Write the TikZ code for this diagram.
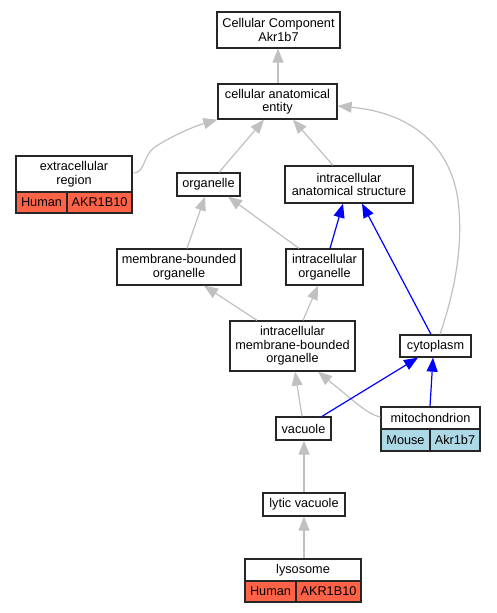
\documentclass[tikz,border=0pt]{standalone}
\usepackage{fontspec}
\setmainfont{Liberation Sans}
\usetikzlibrary{arrows.meta,calc}
\definecolor{hum}{HTML}{FF6347}
\definecolor{mou}{HTML}{ADD8E6}
\definecolor{edgegray}{HTML}{C0C0C0}
\tikzset{
  box/.style={draw=black!85, line width=1.3pt, fill=white, rectangle, inner sep=0pt, align=center, font=\fontsize{12.7}{13.5}\selectfont},
  hcell/.style={box, fill=hum},
  mcell/.style={box, fill=mou},
  isa/.style={draw=edgegray, line width=1.2pt, -{Triangle[length=14pt,width=11pt]}},
  part/.style={draw=blue, line width=1.2pt, -{Triangle[length=14pt,width=11pt]}},
}
\begin{document}
\begin{tikzpicture}[x=1pt,y=-1pt]
\useasboundingbox (0,0) rectangle (496,613);
% nodes
\node[box, minimum width=123, minimum height=36] (cc) at (278.5,30) {Cellular Component\\Akr1b7};
\node[box, minimum width=119, minimum height=35] (cae) at (277.5,101.5) {cellular anatomical\\entity};
\node[box, minimum width=116, minimum height=36] (ecr) at (74,174) {extracellular\\region};
\node[hcell, minimum width=51, minimum height=21] (ecrh) at (41.5,202.5) {Human};
\node[hcell, minimum width=65, minimum height=21] (ecrg) at (99.5,202.5) {AKR1B10};
\node[box, minimum width=63, minimum height=23] (org) at (208.5,184.5) {organelle};
\node[box, minimum width=128, minimum height=37] (ias) at (349,184.5) {intracellular\\anatomical structure};
\node[box, minimum width=124, minimum height=36] (mbo) at (179,267) {membrane-bounded\\organelle};
\node[box, minimum width=77, minimum height=36] (io) at (324.5,267) {intracellular\\organelle};
\node[box, minimum width=125, minimum height=50] (imbo) at (292.5,346) {intracellular\\membrane-bounded\\organelle};
\node[box, minimum width=71, minimum height=22] (cyto) at (435.5,346) {cytoplasm};
\node[box, minimum width=99, minimum height=22] (mito) at (430.5,418) {mitochondrion};
\node[mcell, minimum width=49, minimum height=22] (mitoh) at (405.5,440) {Mouse};
\node[mcell, minimum width=50, minimum height=22] (mitog) at (455,440) {Akr1b7};
\node[box, minimum width=55, minimum height=23] (vac) at (303.5,428.5) {vacuole};
\node[box, minimum width=82, minimum height=23] (lv) at (304,504.5) {lytic vacuole};
\node[box, minimum width=116, minimum height=22] (lys) at (303,570) {lysosome};
\node[hcell, minimum width=51, minimum height=21] (lysh) at (270.5,591.5) {Human};
\node[hcell, minimum width=65, minimum height=21] (lysg) at (328.5,591.5) {AKR1B10};
% edges
\draw[isa] ($(cae.north)+(0.5,0)$) -- ($(cc.south)+(-0.5,0)$);
\draw[isa] ($(ecr.east)+(1,-1)$) .. controls (145,173) and (143,155) .. (155,147) .. controls (170,137) and (192,127) .. (cae.south west);
\draw[isa] ($(org.north)+(10.5,0)$) -- ($(cae.south)+(-13.5,0)$);
\draw[isa] ($(ias.north)+(-16,0)$) -- ($(cae.south)+(15.5,0)$);
\draw[isa] ($(cyto.north)+(4.5,0)$) .. controls (455,290) and (462,250) .. (459,210) .. controls (455,150) and (415,113) .. ($(cae.east)+(0,4.5)$);
\draw[isa] ($(mbo.north)+(8,0)$) -- ($(org.south)+(-3.5,0)$);
\draw[isa] ($(io.north)+(-25.5,0)$) -- ($(org.south)+(19.5,0)$);
\draw[part] ($(io.north)+(5.5,0)$) -- ($(ias.south)+(-6,0)$);
\draw[part] ($(cyto.north)+(-4.5,0)$) -- ($(ias.south)+(13,0)$);
\draw[isa] ($(imbo.north)+(-35.5,0)$) -- ($(mbo.south)+(25,0)$);
\draw[isa] ($(imbo.north)+(10.5,0)$) -- ($(io.south)+(-6.5,0)$);
\draw[isa] ($(vac.north)+(-1.5,0)$) -- ($(imbo.south)+(2.5,0)$);
\draw[isa] ($(mito.west)+(0,-1)$) .. controls (371,415) and (362,408) .. (350,398) -- ($(imbo.south)+(25.5,0)$);
\draw[part] ($(vac.north)+(18.5,0)$) -- ($(cyto.south)+(-17.5,0)$);
\draw[part] ($(mito.north)+(-0.5,0)$) -- ($(cyto.south)+(-2.5,0)$);
\draw[isa] (lv.north) -- ($(vac.south)+(0.5,0)$);
\draw[isa] ($(lys.north)+(1,0)$) -- (lv.south);
\end{tikzpicture}
\end{document}
